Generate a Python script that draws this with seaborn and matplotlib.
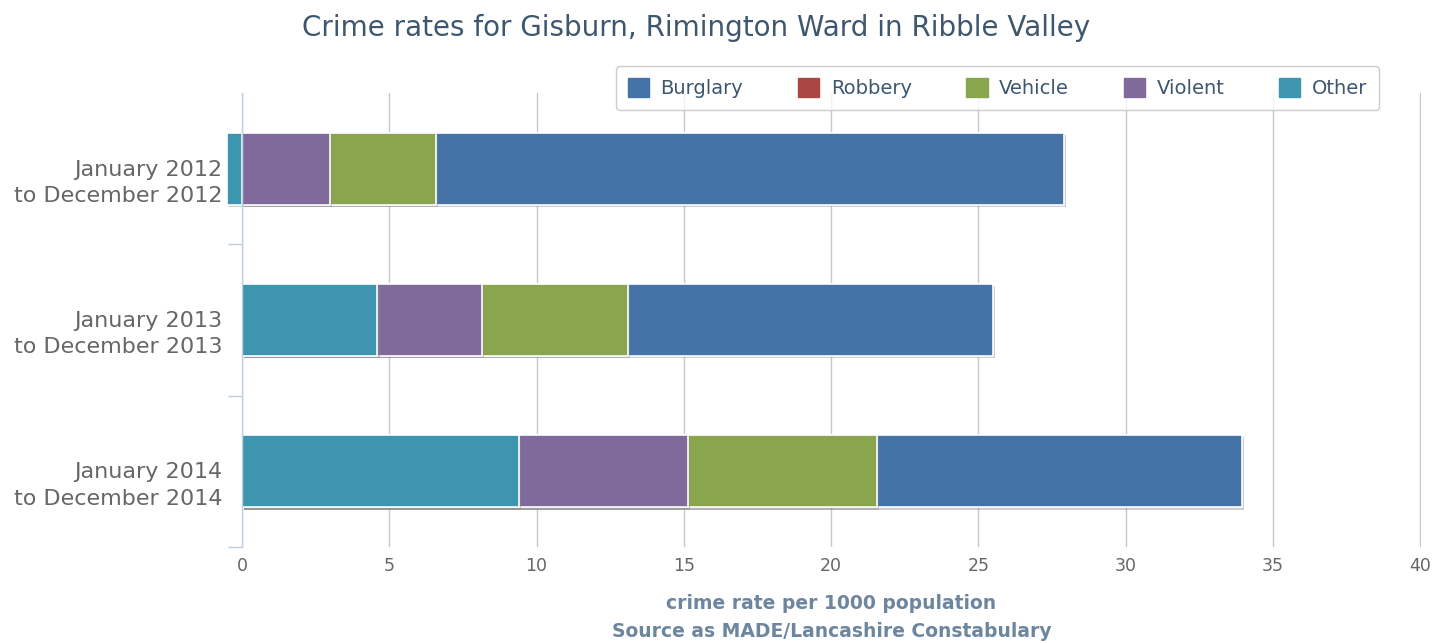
import matplotlib
matplotlib.use("Agg")
import matplotlib.pyplot as plt
import matplotlib.patheffects as pe
import matplotlib.transforms as mtransforms
from matplotlib.patches import Patch
import seaborn as sns

periods = ["January 2012\nto December 2012",
           "January 2013\nto December 2013",
           "January 2014\nto December 2014"]
series = ["Burglary", "Robbery", "Vehicle", "Violent", "Other"]
burglary = [21.3, 12.4, 12.4]
robbery = [0.0, 0.0, 0.0]
vehicle = [3.6, 4.95, 6.4]
violent = [3.0, 3.55, 5.75]
other = [-0.5, 4.6, 9.4]
colors = {"Burglary": "#4572A7", "Robbery": "#AA4643", "Vehicle": "#89A54E",
          "Violent": "#80699B", "Other": "#3D96AE"}

sns.set_theme(style="white")
plt.rcParams["font.family"] = ["DejaVu Sans"]

fig = plt.figure(figsize=(14.35, 6.43), dpi=100)
ax = fig.add_axes([242 / 1435, 1 - 547 / 643, (1421 - 242) / 1435, (547 - 93) / 643])

# stacking (Highcharts style: last series nearest zero, negatives to the left)
values = {"Burglary": burglary, "Robbery": robbery, "Vehicle": vehicle,
          "Violent": violent, "Other": other}
stack_order = ["Other", "Violent", "Vehicle", "Robbery", "Burglary"]
pos_cum = [0.0] * 3
neg_cum = [0.0] * 3
segs = []
for s in stack_order:
    v = values[s]
    ends = []
    for i, val in enumerate(v):
        if val >= 0:
            pos_cum[i] += val
            ends.append(pos_cum[i])
        else:
            neg_cum[i] += val
            ends.append(neg_cum[i])
    segs.append((s, ends, list(v)))

for s, ends, raw in reversed(segs):
    pos_ends = [e if r > 0 else 0 for e, r in zip(ends, raw)]
    sns.barplot(x=pos_ends, y=periods, color=colors[s], orient="h", width=0.477,
                ax=ax, saturation=1, edgecolor="white", linewidth=1.2)
for s, ends, raw in segs:
    if any(r < 0 for r in raw):
        neg_ends = [e if r < 0 else 0 for e, r in zip(ends, raw)]
        sns.barplot(x=neg_ends, y=periods, color=colors[s], orient="h", width=0.477,
                    ax=ax, saturation=1, edgecolor="white", linewidth=1.2)

for p in list(ax.patches):
    if abs(p.get_width()) < 1e-9:
        p.remove()
    else:
        p.set_path_effects([pe.SimplePatchShadow(offset=(1.5, -1.5), shadow_rgbFace="#888888", alpha=0.4),
                            pe.Normal()])
        p.set_clip_on(False)

ax.set_xlim(0, 40.03)
ax.set_ylim(2.5, -0.5)
ax.set_xticks(range(0, 41, 5))
ax.xaxis.grid(True, color="#C8C8C8", linewidth=1)
ax.set_axisbelow(True)
for sp in ["top", "right", "bottom"]:
    ax.spines[sp].set_visible(False)
ax.spines["left"].set_color("#C0D0E0")
ax.spines["left"].set_linewidth(1)

ax.tick_params(axis="x", length=0, labelsize=12.5, labelcolor="#666666", pad=7)
ax.tick_params(axis="y", which="major", left=False, length=0, labelsize=16, labelcolor="#666666", pad=14)
ax.set_yticks([0.5, 1.5, 2.5], minor=True)
ax.tick_params(axis="y", which="minor", left=True, direction="out", length=10, color="#C0D0E0", width=1)
offset = mtransforms.ScaledTranslation(0, -9 / 100, fig.dpi_scale_trans)
for lab in ax.get_yticklabels():
    lab.set_horizontalalignment("right")
    lab.set_linespacing(1.4)
    lab.set_transform(lab.get_transform() + offset)

ax.set_xlabel("crime rate per 1000 population\nSource as MADE/Lancashire Constabulary",
              color="#6D869F", fontsize=13.5, fontweight="bold", linespacing=1.55)
ax.xaxis.set_label_coords(0.5, -(617.5 - 547) / 454)
ax.xaxis.label.set_va("center")
ax.set_ylabel("")

fig.text(0.485, 1 - 28 / 643, "Crime rates for Gisburn, Rimington Ward in Ribble Valley",
         ha="center", va="center", fontsize=20, color="#3E576F")

handles = [Patch(facecolor=colors[s], edgecolor=colors[s], label=s) for s in series]
leg = fig.legend(handles=handles, loc="center", bbox_to_anchor=(997.5 / 1435, 1 - 88 / 643),
                 ncol=5, frameon=True, fancybox=True, edgecolor="#C0C0C0",
                 fontsize=14, handlelength=1.1, handleheight=1.1, columnspacing=2.8,
                 handletextpad=0.6, borderpad=0.6)
for t in leg.get_texts():
    t.set_color("#3E576F")
leg.get_frame().set_linewidth(1)

fig.savefig("out.png", dpi=100)
